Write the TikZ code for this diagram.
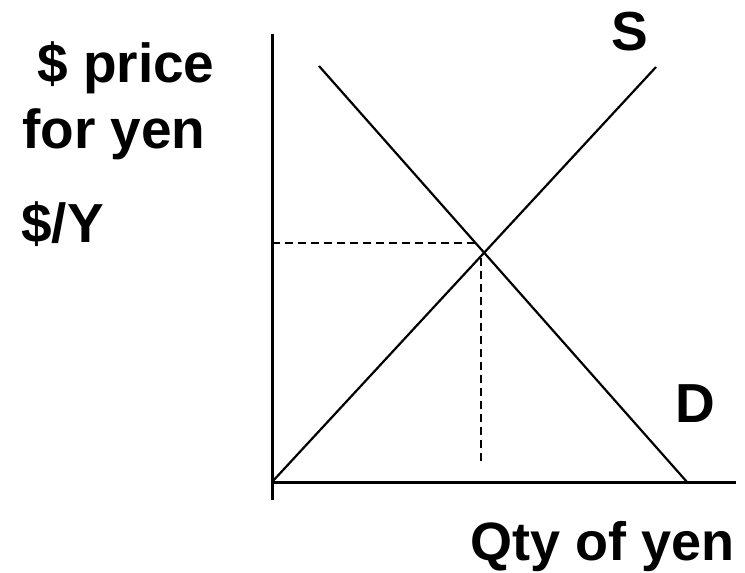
\documentclass[tikz,border=0pt]{standalone}
\usepackage{fontspec}
\setmainfont{Liberation Sans}
\begin{document}
\begin{tikzpicture}[x=1pt,y=-1pt,
  lbl/.style={inner sep=0pt,anchor=base west,font=\fontsize{55}{60}\selectfont\bfseries},
  axis/.style={line width=3pt},
  curve/.style={line width=2.2pt},
  guide/.style={line width=2pt,dash pattern=on 8pt off 5pt}]
\useasboundingbox (0,0) rectangle (745,573);
\coordinate (ytop) at (272,34);
\coordinate (ybot) at (272,500);
\coordinate (o) at (272,482);
\coordinate (xend) at (736,482);
\coordinate (stop) at (656,67);
\coordinate (dtop) at (319,66);
\coordinate (dbot) at (687,482);
\coordinate (eq) at (484,252);
\coordinate (hy) at (272,243);
\coordinate (hx) at (478,243);
\coordinate (vt) at (481,258);
\coordinate (vb) at (481,462);
\draw[axis] (ytop) -- (ybot);
\draw[axis] (o) -- (xend);
\draw[curve] (o) -- (stop);
\draw[curve] (dtop) -- (dbot);
\draw[guide] (hy) -- (hx);
\draw[guide] (vt) -- (vb);
\node[lbl] (p1) at (37,82) {\$ price};
\node[lbl] (p2) at (22,148) {for yen};
\node[lbl] (p3) at (21,242) {\$/Y};
\node[lbl,font=\fontsize{54}{60}\selectfont\bfseries] (q) at (470,560) {Qty of yen};
\node[lbl] (s) at (611,50) {S};
\node[lbl] (d) at (675,422) {D};
\end{tikzpicture}
\end{document}
